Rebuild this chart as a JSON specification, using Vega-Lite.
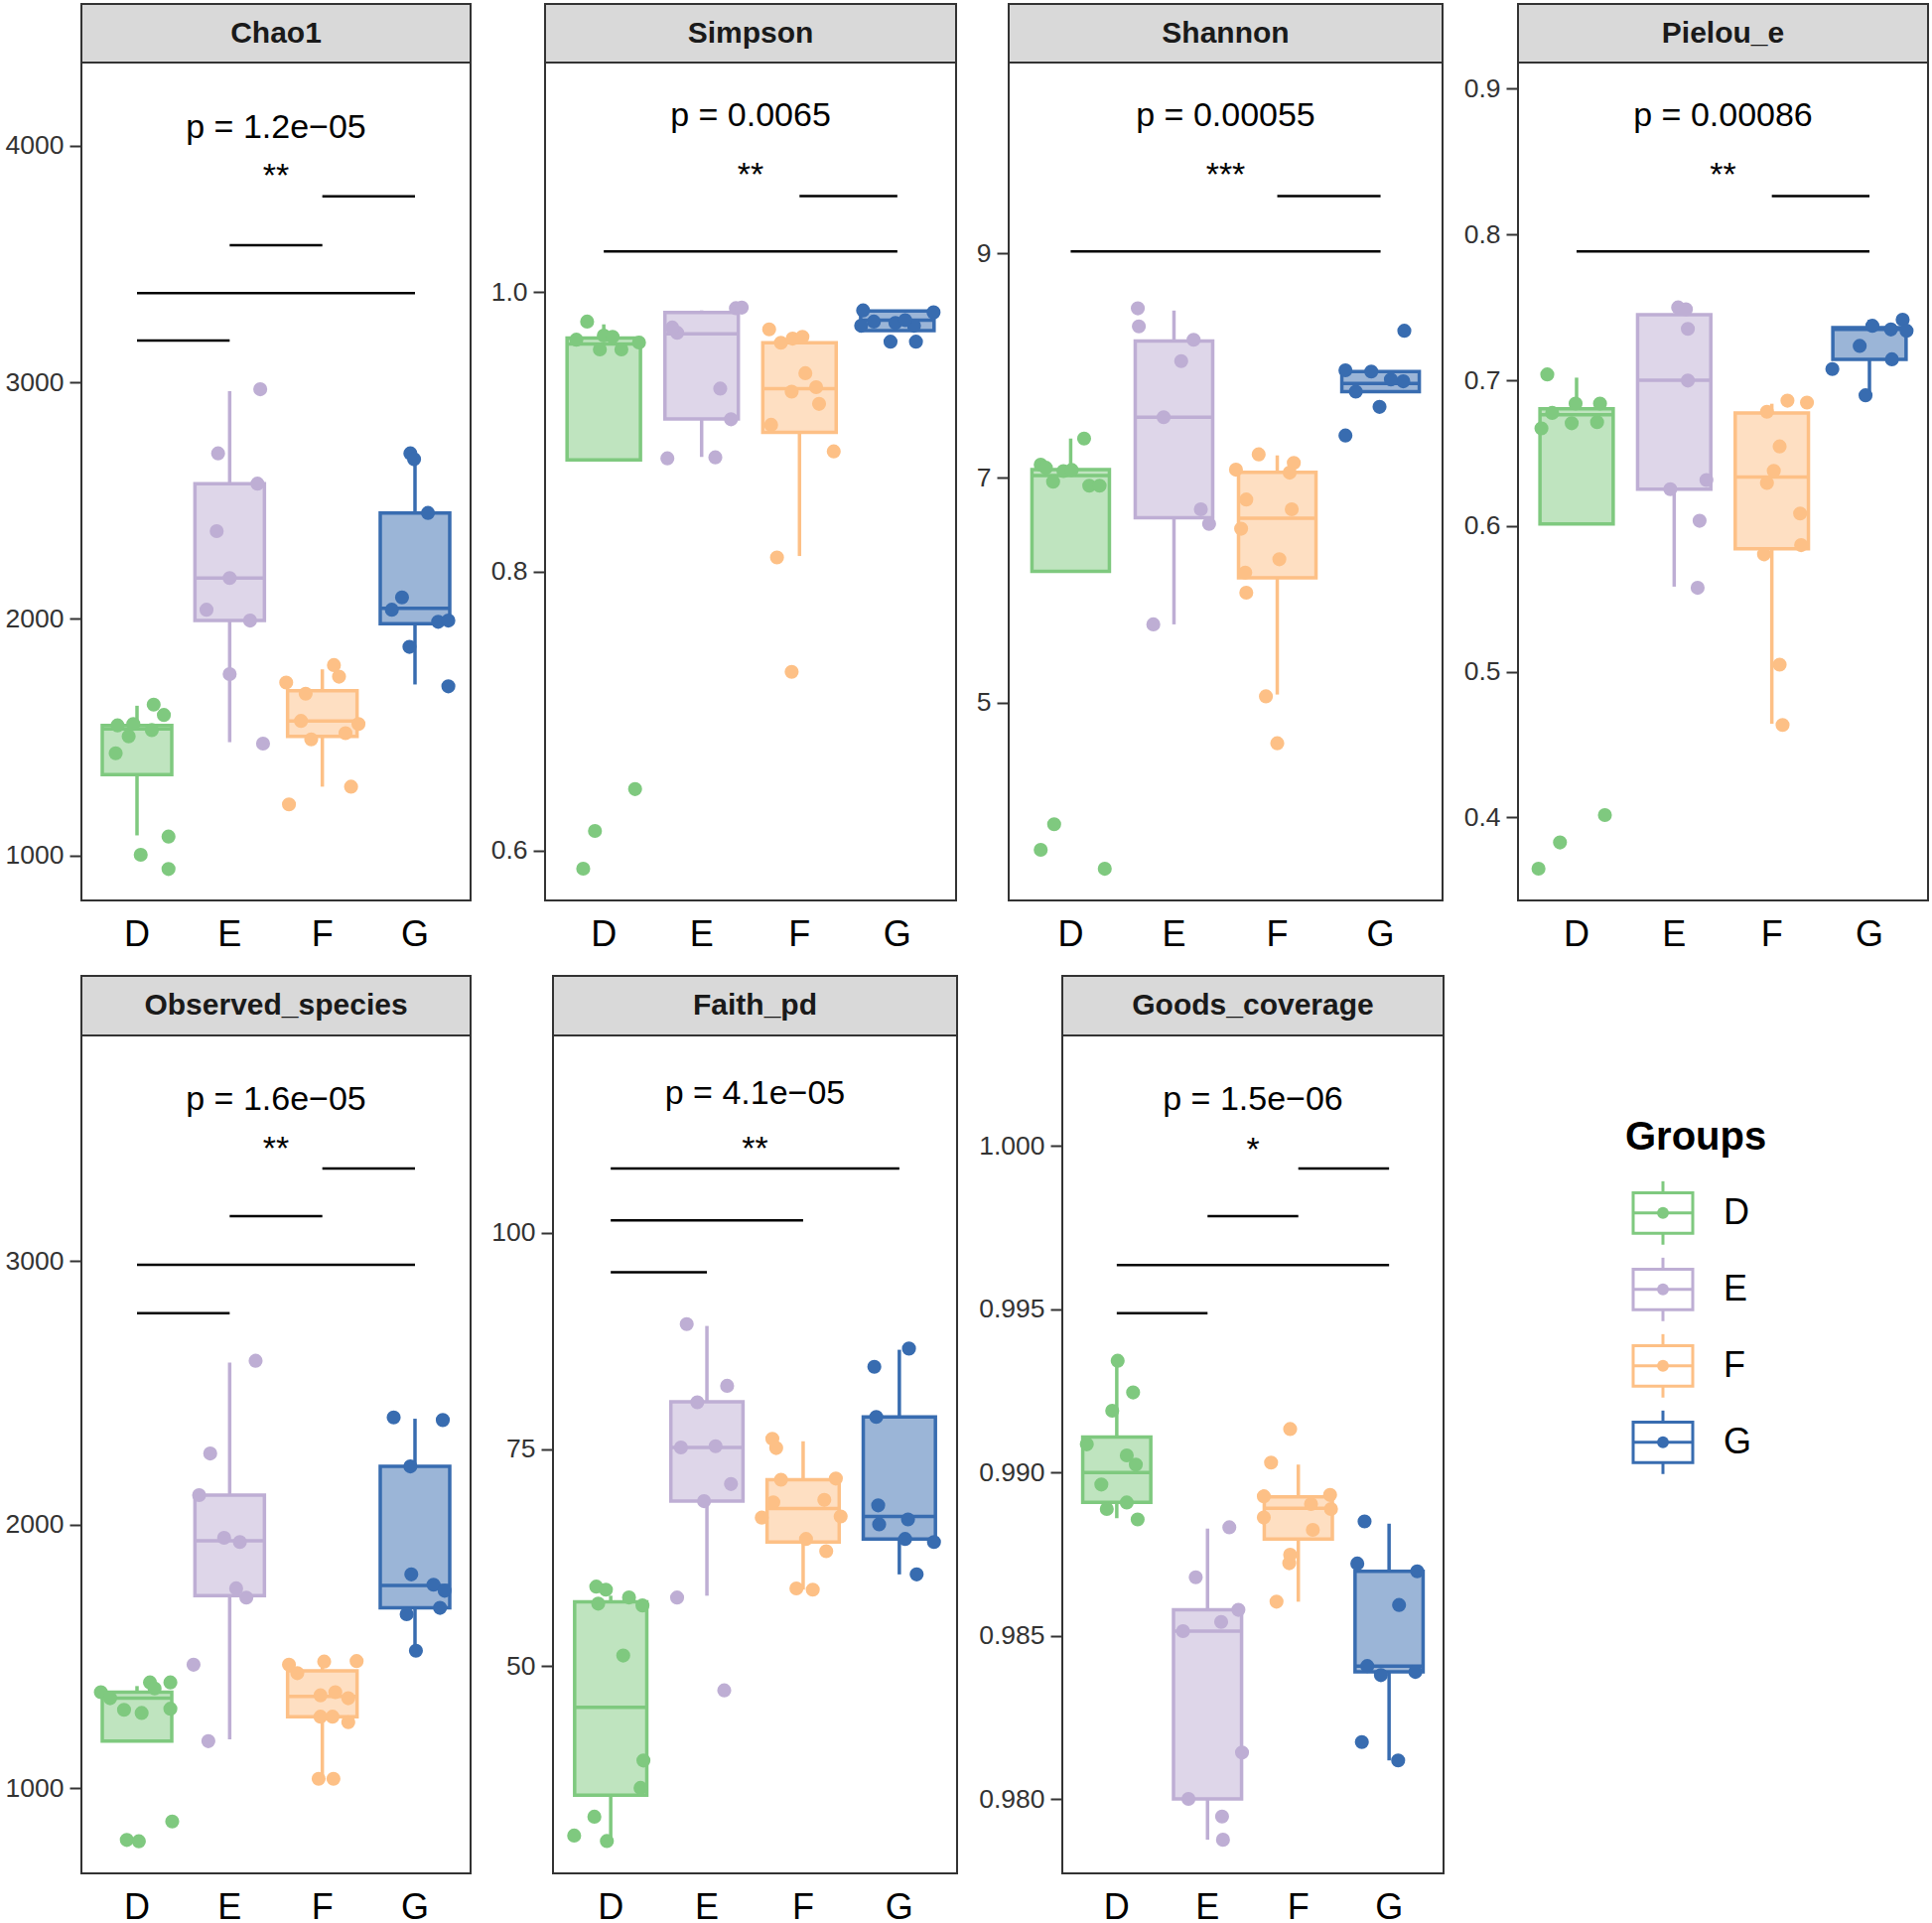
{
"$schema": "https://vega.github.io/schema/vega-lite/v6.json",
"padding": {"left": 4, "top": 3, "right": 4, "bottom": 4},
"background": "white",
"datasets": {
"pts": [
{"m":"Chao1","g":"D","j":-0.21,"v":1550},{"m":"Chao1","g":"D","j":-0.09,"v":1504},{"m":"Chao1","g":"D","j":-0.04,"v":1556},{"m":"Chao1","g":"D","j":0.16,"v":1530},{"m":"Chao1","g":"D","j":-0.23,"v":1432},{"m":"Chao1","g":"D","j":0.18,"v":1638},{"m":"Chao1","g":"D","j":0.29,"v":1594},{"m":"Chao1","g":"D","j":0.04,"v":1003},{"m":"Chao1","g":"D","j":0.34,"v":1080},{"m":"Chao1","g":"D","j":0.34,"v":943},
{"m":"Chao1","g":"E","j":0.33,"v":2971},{"m":"Chao1","g":"E","j":-0.125,"v":2700},{"m":"Chao1","g":"E","j":0.3,"v":2572},{"m":"Chao1","g":"E","j":-0.14,"v":2371},{"m":"Chao1","g":"E","j":0,"v":2173},{"m":"Chao1","g":"E","j":-0.25,"v":2039},{"m":"Chao1","g":"E","j":0.22,"v":1993},{"m":"Chao1","g":"E","j":0,"v":1767},{"m":"Chao1","g":"E","j":0.36,"v":1473},
{"m":"Chao1","g":"F","j":-0.39,"v":1731},{"m":"Chao1","g":"F","j":-0.18,"v":1684},{"m":"Chao1","g":"F","j":0.125,"v":1805},{"m":"Chao1","g":"F","j":0.18,"v":1756},{"m":"Chao1","g":"F","j":-0.23,"v":1569},{"m":"Chao1","g":"F","j":-0.12,"v":1491},{"m":"Chao1","g":"F","j":0.25,"v":1517},{"m":"Chao1","g":"F","j":0.39,"v":1556},{"m":"Chao1","g":"F","j":0.31,"v":1291},{"m":"Chao1","g":"F","j":-0.36,"v":1216},
{"m":"Chao1","g":"G","j":-0.05,"v":2700},{"m":"Chao1","g":"G","j":-0.01,"v":2675},{"m":"Chao1","g":"G","j":0.14,"v":2448},{"m":"Chao1","g":"G","j":-0.14,"v":2091},{"m":"Chao1","g":"G","j":-0.25,"v":2039},{"m":"Chao1","g":"G","j":0.25,"v":1988},{"m":"Chao1","g":"G","j":0.36,"v":1993},{"m":"Chao1","g":"G","j":-0.06,"v":1882},{"m":"Chao1","g":"G","j":0.36,"v":1715},

{"m":"Simpson","g":"D","j":-0.17,"v":0.979},{"m":"Simpson","g":"D","j":-0.04,"v":0.959},{"m":"Simpson","g":"D","j":0,"v":0.969},{"m":"Simpson","g":"D","j":0.09,"v":0.968},{"m":"Simpson","g":"D","j":0.18,"v":0.959},{"m":"Simpson","g":"D","j":0.36,"v":0.964},{"m":"Simpson","g":"D","j":-0.28,"v":0.966},{"m":"Simpson","g":"D","j":-0.21,"v":0.587},{"m":"Simpson","g":"D","j":-0.09,"v":0.614},{"m":"Simpson","g":"D","j":0.32,"v":0.644},
{"m":"Simpson","g":"E","j":0.35,"v":0.9886},{"m":"Simpson","g":"E","j":0.41,"v":0.989},{"m":"Simpson","g":"E","j":-0.25,"v":0.971},{"m":"Simpson","g":"E","j":-0.3,"v":0.9747},{"m":"Simpson","g":"E","j":0.19,"v":0.931},{"m":"Simpson","g":"E","j":0.3,"v":0.909},{"m":"Simpson","g":"E","j":-0.35,"v":0.881},{"m":"Simpson","g":"E","j":0.14,"v":0.8817},
{"m":"Simpson","g":"F","j":-0.31,"v":0.9734},{"m":"Simpson","g":"F","j":-0.19,"v":0.9638},{"m":"Simpson","g":"F","j":-0.07,"v":0.9668},{"m":"Simpson","g":"F","j":0.03,"v":0.968},{"m":"Simpson","g":"F","j":0.06,"v":0.942},{"m":"Simpson","g":"F","j":0.17,"v":0.932},{"m":"Simpson","g":"F","j":-0.08,"v":0.9288},{"m":"Simpson","g":"F","j":0.2,"v":0.92},{"m":"Simpson","g":"F","j":-0.29,"v":0.905},{"m":"Simpson","g":"F","j":0.35,"v":0.886},{"m":"Simpson","g":"F","j":-0.23,"v":0.81},{"m":"Simpson","g":"F","j":-0.08,"v":0.728},
{"m":"Simpson","g":"G","j":-0.35,"v":0.987},{"m":"Simpson","g":"G","j":0.37,"v":0.9856},{"m":"Simpson","g":"G","j":-0.24,"v":0.979},{"m":"Simpson","g":"G","j":-0.37,"v":0.976},{"m":"Simpson","g":"G","j":-0.02,"v":0.978},{"m":"Simpson","g":"G","j":0.17,"v":0.976},{"m":"Simpson","g":"G","j":-0.07,"v":0.9646},{"m":"Simpson","g":"G","j":0.19,"v":0.9646},{"m":"Simpson","g":"G","j":0.08,"v":0.98},

{"m":"Shannon","g":"D","j":-0.29,"v":7.117},{"m":"Shannon","g":"D","j":-0.24,"v":7.09},{"m":"Shannon","g":"D","j":-0.17,"v":6.965},{"m":"Shannon","g":"D","j":-0.07,"v":7.06},{"m":"Shannon","g":"D","j":0.01,"v":7.07},{"m":"Shannon","g":"D","j":0.13,"v":7.35},{"m":"Shannon","g":"D","j":0.18,"v":6.93},{"m":"Shannon","g":"D","j":0.28,"v":6.93},{"m":"Shannon","g":"D","j":-0.29,"v":3.687},{"m":"Shannon","g":"D","j":-0.16,"v":3.915},{"m":"Shannon","g":"D","j":0.33,"v":3.518},
{"m":"Shannon","g":"E","j":-0.35,"v":8.51},{"m":"Shannon","g":"E","j":-0.34,"v":8.349},{"m":"Shannon","g":"E","j":0.19,"v":8.23},{"m":"Shannon","g":"E","j":0.07,"v":8.04},{"m":"Shannon","g":"E","j":-0.1,"v":7.54},{"m":"Shannon","g":"E","j":0.26,"v":6.72},{"m":"Shannon","g":"E","j":0.34,"v":6.59},{"m":"Shannon","g":"E","j":-0.2,"v":5.695},
{"m":"Shannon","g":"F","j":-0.18,"v":7.209},{"m":"Shannon","g":"F","j":-0.4,"v":7.073},{"m":"Shannon","g":"F","j":0.16,"v":7.133},{"m":"Shannon","g":"F","j":0.12,"v":7.046},{"m":"Shannon","g":"F","j":-0.3,"v":6.807},{"m":"Shannon","g":"F","j":0.14,"v":6.72},{"m":"Shannon","g":"F","j":-0.35,"v":6.547},{"m":"Shannon","g":"F","j":0.02,"v":6.275},{"m":"Shannon","g":"F","j":-0.31,"v":6.156},{"m":"Shannon","g":"F","j":-0.3,"v":5.977},{"m":"Shannon","g":"F","j":-0.11,"v":5.054},{"m":"Shannon","g":"F","j":0,"v":4.636},
{"m":"Shannon","g":"G","j":0.23,"v":8.31},{"m":"Shannon","g":"G","j":-0.34,"v":7.958},{"m":"Shannon","g":"G","j":-0.09,"v":7.947},{"m":"Shannon","g":"G","j":-0.24,"v":7.768},{"m":"Shannon","g":"G","j":-0.01,"v":7.632},{"m":"Shannon","g":"G","j":-0.34,"v":7.377},{"m":"Shannon","g":"G","j":0.22,"v":7.86},{"m":"Shannon","g":"G","j":0.1,"v":7.876},

{"m":"Pielou_e","g":"D","j":-0.3,"v":0.704},{"m":"Pielou_e","g":"D","j":-0.36,"v":0.667},{"m":"Pielou_e","g":"D","j":-0.25,"v":0.6776},{"m":"Pielou_e","g":"D","j":-0.05,"v":0.6705},{"m":"Pielou_e","g":"D","j":-0.01,"v":0.684},{"m":"Pielou_e","g":"D","j":0.21,"v":0.6713},{"m":"Pielou_e","g":"D","j":0.24,"v":0.684},{"m":"Pielou_e","g":"D","j":-0.39,"v":0.3649},{"m":"Pielou_e","g":"D","j":-0.17,"v":0.3829},{"m":"Pielou_e","g":"D","j":0.29,"v":0.4017},
{"m":"Pielou_e","g":"E","j":0.04,"v":0.75},{"m":"Pielou_e","g":"E","j":0.12,"v":0.7487},{"m":"Pielou_e","g":"E","j":0.14,"v":0.7353},{"m":"Pielou_e","g":"E","j":0.14,"v":0.6998},{"m":"Pielou_e","g":"E","j":-0.04,"v":0.6253},{"m":"Pielou_e","g":"E","j":0.33,"v":0.6316},{"m":"Pielou_e","g":"E","j":0.26,"v":0.6036},{"m":"Pielou_e","g":"E","j":0.24,"v":0.5576},
{"m":"Pielou_e","g":"F","j":0.16,"v":0.686},{"m":"Pielou_e","g":"F","j":0.36,"v":0.6847},{"m":"Pielou_e","g":"F","j":-0.05,"v":0.6784},{"m":"Pielou_e","g":"F","j":0.08,"v":0.6546},{"m":"Pielou_e","g":"F","j":0.02,"v":0.6379},{"m":"Pielou_e","g":"F","j":-0.05,"v":0.6295},{"m":"Pielou_e","g":"F","j":0.29,"v":0.6086},{"m":"Pielou_e","g":"F","j":-0.08,"v":0.5806},{"m":"Pielou_e","g":"F","j":0.3,"v":0.5869},{"m":"Pielou_e","g":"F","j":0.08,"v":0.5049},{"m":"Pielou_e","g":"F","j":0.11,"v":0.4635},
{"m":"Pielou_e","g":"G","j":0.34,"v":0.7416},{"m":"Pielou_e","g":"G","j":0.03,"v":0.7374},{"m":"Pielou_e","g":"G","j":0.22,"v":0.7349},{"m":"Pielou_e","g":"G","j":0.38,"v":0.734},{"m":"Pielou_e","g":"G","j":-0.1,"v":0.7236},{"m":"Pielou_e","g":"G","j":-0.38,"v":0.7077},{"m":"Pielou_e","g":"G","j":0.23,"v":0.7144},{"m":"Pielou_e","g":"G","j":-0.04,"v":0.6897},

{"m":"Observed_species","g":"D","j":-0.39,"v":1364},{"m":"Observed_species","g":"D","j":-0.29,"v":1341},{"m":"Observed_species","g":"D","j":-0.14,"v":1297},{"m":"Observed_species","g":"D","j":0.05,"v":1285},{"m":"Observed_species","g":"D","j":0.14,"v":1401},{"m":"Observed_species","g":"D","j":0.19,"v":1378},{"m":"Observed_species","g":"D","j":0.36,"v":1401},{"m":"Observed_species","g":"D","j":0.36,"v":1301},{"m":"Observed_species","g":"D","j":-0.11,"v":803},{"m":"Observed_species","g":"D","j":0.02,"v":798},{"m":"Observed_species","g":"D","j":0.38,"v":873},
{"m":"Observed_species","g":"E","j":0.28,"v":2622},{"m":"Observed_species","g":"E","j":-0.21,"v":2270},{"m":"Observed_species","g":"E","j":-0.33,"v":2112},{"m":"Observed_species","g":"E","j":-0.06,"v":1950},{"m":"Observed_species","g":"E","j":0.11,"v":1934},{"m":"Observed_species","g":"E","j":0.07,"v":1758},{"m":"Observed_species","g":"E","j":0.18,"v":1723},{"m":"Observed_species","g":"E","j":-0.39,"v":1468},{"m":"Observed_species","g":"E","j":-0.23,"v":1178},
{"m":"Observed_species","g":"F","j":-0.36,"v":1468},{"m":"Observed_species","g":"F","j":-0.27,"v":1436},{"m":"Observed_species","g":"F","j":0.02,"v":1480},{"m":"Observed_species","g":"F","j":0.37,"v":1482},{"m":"Observed_species","g":"F","j":-0.02,"v":1352},{"m":"Observed_species","g":"F","j":0.14,"v":1364},{"m":"Observed_species","g":"F","j":0.28,"v":1341},{"m":"Observed_species","g":"F","j":-0.02,"v":1271},{"m":"Observed_species","g":"F","j":0.11,"v":1271},{"m":"Observed_species","g":"F","j":0.28,"v":1250},{"m":"Observed_species","g":"F","j":-0.04,"v":1035},{"m":"Observed_species","g":"F","j":0.12,"v":1035},
{"m":"Observed_species","g":"G","j":-0.23,"v":2407},{"m":"Observed_species","g":"G","j":0.3,"v":2397},{"m":"Observed_species","g":"G","j":-0.05,"v":2221},{"m":"Observed_species","g":"G","j":-0.04,"v":1811},{"m":"Observed_species","g":"G","j":0.2,"v":1772},{"m":"Observed_species","g":"G","j":0.32,"v":1749},{"m":"Observed_species","g":"G","j":-0.09,"v":1660},{"m":"Observed_species","g":"G","j":0.27,"v":1684},{"m":"Observed_species","g":"G","j":0.01,"v":1521},

{"m":"Faith_pd","g":"D","j":-0.15,"v":59.15},{"m":"Faith_pd","g":"D","j":-0.05,"v":58.8},{"m":"Faith_pd","g":"D","j":-0.13,"v":57.18},{"m":"Faith_pd","g":"D","j":0.19,"v":57.9},{"m":"Faith_pd","g":"D","j":0.33,"v":56.97},{"m":"Faith_pd","g":"D","j":0.13,"v":51.2},{"m":"Faith_pd","g":"D","j":0.34,"v":39.08},{"m":"Faith_pd","g":"D","j":0.31,"v":35.92},{"m":"Faith_pd","g":"D","j":-0.17,"v":32.6},{"m":"Faith_pd","g":"D","j":-0.38,"v":30.42},{"m":"Faith_pd","g":"D","j":-0.04,"v":29.79},
{"m":"Faith_pd","g":"E","j":-0.21,"v":89.44},{"m":"Faith_pd","g":"E","j":0.21,"v":82.32},{"m":"Faith_pd","g":"E","j":-0.1,"v":80.42},{"m":"Faith_pd","g":"E","j":-0.27,"v":75.21},{"m":"Faith_pd","g":"E","j":0.09,"v":75.35},{"m":"Faith_pd","g":"E","j":0.25,"v":70.99},{"m":"Faith_pd","g":"E","j":-0.03,"v":69.01},{"m":"Faith_pd","g":"E","j":-0.31,"v":57.89},{"m":"Faith_pd","g":"E","j":0.18,"v":47.18},
{"m":"Faith_pd","g":"F","j":-0.32,"v":76.2},{"m":"Faith_pd","g":"F","j":-0.28,"v":75.14},{"m":"Faith_pd","g":"F","j":-0.23,"v":71.48},{"m":"Faith_pd","g":"F","j":0.34,"v":71.62},{"m":"Faith_pd","g":"F","j":-0.31,"v":68.87},{"m":"Faith_pd","g":"F","j":0.22,"v":69.15},{"m":"Faith_pd","g":"F","j":-0.43,"v":67.11},{"m":"Faith_pd","g":"F","j":0.39,"v":67.25},{"m":"Faith_pd","g":"F","j":0.03,"v":64.65},{"m":"Faith_pd","g":"F","j":0.24,"v":63.24},{"m":"Faith_pd","g":"F","j":-0.07,"v":58.94},{"m":"Faith_pd","g":"F","j":0.1,"v":58.8},
{"m":"Faith_pd","g":"G","j":0.1,"v":86.62},{"m":"Faith_pd","g":"G","j":-0.26,"v":84.51},{"m":"Faith_pd","g":"G","j":-0.24,"v":78.73},{"m":"Faith_pd","g":"G","j":-0.22,"v":68.52},{"m":"Faith_pd","g":"G","j":-0.21,"v":66.34},{"m":"Faith_pd","g":"G","j":0.09,"v":66.9},{"m":"Faith_pd","g":"G","j":0.06,"v":64.65},{"m":"Faith_pd","g":"G","j":0.36,"v":64.3},{"m":"Faith_pd","g":"G","j":0.18,"v":60.56},

{"m":"Goods_coverage","g":"D","j":0.01,"v":0.99342},{"m":"Goods_coverage","g":"D","j":0.18,"v":0.99245},{"m":"Goods_coverage","g":"D","j":-0.05,"v":0.99189},{"m":"Goods_coverage","g":"D","j":-0.33,"v":0.99086},{"m":"Goods_coverage","g":"D","j":0.11,"v":0.99052},{"m":"Goods_coverage","g":"D","j":0.21,"v":0.99024},{"m":"Goods_coverage","g":"D","j":-0.17,"v":0.98963},{"m":"Goods_coverage","g":"D","j":0.11,"v":0.98908},{"m":"Goods_coverage","g":"D","j":-0.11,"v":0.98888},{"m":"Goods_coverage","g":"D","j":0.23,"v":0.98856},
{"m":"Goods_coverage","g":"E","j":0.24,"v":0.98832},{"m":"Goods_coverage","g":"E","j":-0.13,"v":0.98679},{"m":"Goods_coverage","g":"E","j":0.34,"v":0.98579},{"m":"Goods_coverage","g":"E","j":0.15,"v":0.98542},{"m":"Goods_coverage","g":"E","j":-0.27,"v":0.98514},{"m":"Goods_coverage","g":"E","j":0.38,"v":0.98142},{"m":"Goods_coverage","g":"E","j":-0.21,"v":0.98},{"m":"Goods_coverage","g":"E","j":0.16,"v":0.97946},{"m":"Goods_coverage","g":"E","j":0.17,"v":0.97875},
{"m":"Goods_coverage","g":"F","j":-0.09,"v":0.99133},{"m":"Goods_coverage","g":"F","j":-0.3,"v":0.9903},{"m":"Goods_coverage","g":"F","j":-0.38,"v":0.98927},{"m":"Goods_coverage","g":"F","j":0.35,"v":0.98931},{"m":"Goods_coverage","g":"F","j":0.14,"v":0.98903},{"m":"Goods_coverage","g":"F","j":-0.38,"v":0.98862},{"m":"Goods_coverage","g":"F","j":0.36,"v":0.98888},{"m":"Goods_coverage","g":"F","j":0.16,"v":0.98824},{"m":"Goods_coverage","g":"F","j":-0.09,"v":0.98748},{"m":"Goods_coverage","g":"F","j":-0.1,"v":0.98722},{"m":"Goods_coverage","g":"F","j":-0.24,"v":0.98604},
{"m":"Goods_coverage","g":"G","j":-0.27,"v":0.9885},{"m":"Goods_coverage","g":"G","j":-0.35,"v":0.98721},{"m":"Goods_coverage","g":"G","j":0.31,"v":0.98697},{"m":"Goods_coverage","g":"G","j":0.11,"v":0.98594},{"m":"Goods_coverage","g":"G","j":-0.24,"v":0.98407},{"m":"Goods_coverage","g":"G","j":-0.09,"v":0.98379},{"m":"Goods_coverage","g":"G","j":0.29,"v":0.98389},{"m":"Goods_coverage","g":"G","j":-0.3,"v":0.98174},{"m":"Goods_coverage","g":"G","j":0.1,"v":0.98118}
],
"box": [
{"m":"Chao1","g":"D","lo":1085,"q1":1342,"med":1535,"q3":1550,"hi":1633},
{"m":"Chao1","g":"E","lo":1479,"q1":1993,"med":2173,"q3":2572,"hi":2963},
{"m":"Chao1","g":"F","lo":1291,"q1":1504,"med":1569,"q3":1697,"hi":1787},
{"m":"Chao1","g":"G","lo":1723,"q1":1980,"med":2045,"q3":2448,"hi":2688},
{"m":"Simpson","g":"D","lo":0.8799,"q1":0.8799,"med":0.963,"q3":0.9672,"hi":0.977},
{"m":"Simpson","g":"E","lo":0.882,"q1":0.9092,"med":0.9703,"q3":0.9856,"hi":0.987},
{"m":"Simpson","g":"F","lo":0.811,"q1":0.8996,"med":0.931,"q3":0.9638,"hi":0.97},
{"m":"Simpson","g":"G","lo":0.9725,"q1":0.9725,"med":0.98,"q3":0.9865,"hi":0.9865},
{"m":"Shannon","g":"D","lo":6.167,"q1":6.167,"med":7.02,"q3":7.073,"hi":7.35},
{"m":"Shannon","g":"E","lo":5.695,"q1":6.644,"med":7.54,"q3":8.218,"hi":8.49},
{"m":"Shannon","g":"F","lo":5.07,"q1":6.11,"med":6.64,"q3":7.05,"hi":7.2},
{"m":"Shannon","g":"G","lo":7.768,"q1":7.768,"med":7.84,"q3":7.947,"hi":7.947},
{"m":"Pielou_e","g":"D","lo":0.6015,"q1":0.6015,"med":0.6763,"q3":0.6805,"hi":0.7018},
{"m":"Pielou_e","g":"E","lo":0.5584,"q1":0.6253,"med":0.7,"q3":0.7449,"hi":0.7449},
{"m":"Pielou_e","g":"F","lo":0.4644,"q1":0.5844,"med":0.6337,"q3":0.6776,"hi":0.6839},
{"m":"Pielou_e","g":"G","lo":0.6893,"q1":0.7144,"med":0.735,"q3":0.7361,"hi":0.7416},
{"m":"Observed_species","g":"D","lo":1178,"q1":1178,"med":1341,"q3":1364,"hi":1387},
{"m":"Observed_species","g":"E","lo":1185,"q1":1730,"med":1939,"q3":2112,"hi":2615},
{"m":"Observed_species","g":"F","lo":1039,"q1":1271,"med":1348,"q3":1445,"hi":1475},
{"m":"Observed_species","g":"G","lo":1521,"q1":1684,"med":1769,"q3":2221,"hi":2402},
{"m":"Faith_pd","g":"D","lo":29.79,"q1":35.07,"med":45.21,"q3":57.39,"hi":58.1},
{"m":"Faith_pd","g":"E","lo":58.1,"q1":69.01,"med":75.21,"q3":80.49,"hi":89.23},
{"m":"Faith_pd","g":"F","lo":58.8,"q1":64.3,"med":68.17,"q3":71.48,"hi":75.92},
{"m":"Faith_pd","g":"G","lo":60.56,"q1":64.65,"med":67.25,"q3":78.73,"hi":86.48},
{"m":"Goods_coverage","g":"D","lo":0.988598,"q1":0.989084,"med":0.99,"q3":0.991084,"hi":0.993421},
{"m":"Goods_coverage","g":"E","lo":0.97875,"q1":0.98,"med":0.98514,"q3":0.98579,"hi":0.98828},
{"m":"Goods_coverage","g":"F","lo":0.98604,"q1":0.98796,"med":0.9889,"q3":0.98925,"hi":0.99024},
{"m":"Goods_coverage","g":"G","lo":0.98118,"q1":0.98389,"med":0.98407,"q3":0.98697,"hi":0.98843}
],
"sig": [
{"m":"Chao1","g1":"D","g2":"E","y":3177},{"m":"Chao1","g1":"D","g2":"G","y":3377},{"m":"Chao1","g1":"E","g2":"F","y":3580},{"m":"Chao1","g1":"F","g2":"G","y":3786},
{"m":"Simpson","g1":"D","g2":"G","y":1.0293},{"m":"Simpson","g1":"F","g2":"G","y":1.069},
{"m":"Shannon","g1":"D","g2":"G","y":9.016},{"m":"Shannon","g1":"F","g2":"G","y":9.51},
{"m":"Pielou_e","g1":"D","g2":"G","y":0.7884},{"m":"Pielou_e","g1":"F","g2":"G","y":0.8264},
{"m":"Observed_species","g1":"D","g2":"E","y":2803},{"m":"Observed_species","g1":"D","g2":"G","y":2986},{"m":"Observed_species","g1":"E","g2":"F","y":3171},{"m":"Observed_species","g1":"F","g2":"G","y":3352},
{"m":"Faith_pd","g1":"D","g2":"E","y":95.42},{"m":"Faith_pd","g1":"D","g2":"F","y":101.41},{"m":"Faith_pd","g1":"D","g2":"G","y":107.39},
{"m":"Goods_coverage","g1":"D","g2":"E","y":0.994879},{"m":"Goods_coverage","g1":"D","g2":"G","y":0.996355},{"m":"Goods_coverage","g1":"E","g2":"F","y":0.99785},{"m":"Goods_coverage","g1":"F","g2":"G","y":0.999308}
],
"ann": [
{"m":"Chao1","k":"p","t":"p = 1.2e−05","y":4082},{"m":"Chao1","k":"s","t":"**","y":3910},
{"m":"Simpson","k":"p","t":"p = 0.0065","y":1.1275},{"m":"Simpson","k":"s","t":"**","y":1.0904},
{"m":"Shannon","k":"p","t":"p = 0.00055","y":10.237},{"m":"Shannon","k":"s","t":"***","y":9.776},
{"m":"Pielou_e","k":"p","t":"p = 0.00086","y":0.8824},{"m":"Pielou_e","k":"s","t":"**","y":0.8469},
{"m":"Observed_species","k":"p","t":"p = 1.6e−05","y":3619},{"m":"Observed_species","k":"s","t":"**","y":3463},
{"m":"Faith_pd","k":"p","t":"p = 4.1e−05","y":116.2},{"m":"Faith_pd","k":"s","t":"**","y":110.77},
{"m":"Goods_coverage","k":"p","t":"p = 1.5e−06","y":1.001458},{"m":"Goods_coverage","k":"s","t":"*","y":1.00015}
],
"groups": [{"g":"D"},{"g":"E"},{"g":"F"},{"g":"G"}]
},
"spacing": 22,
"resolve": {"scale": {"x": "independent", "y": "independent", "color": "shared", "fill": "shared", "stroke": "shared"}},
"vconcat": [
{
"columns": 7,
"spacing": {"row": 0, "column": 0},
"bounds": "flush",
"resolve": {"scale": {"x": "independent", "y": "independent", "color": "shared", "fill": "shared", "stroke": "shared"}},
"concat": [
{"width": 392, "height": 59, "data": {"values": [{"t": "Chao1"}]}, "mark": {"type": "text", "fontSize": 30, "fontWeight": "bold", "color": "#1a1a1a", "baseline": "middle"}, "encoding": {"text": {"field": "t"}}, "view": {"fill": "#d9d9d9", "stroke": "#333333", "strokeWidth": 2}},
{"width": 75, "height": 59, "data": {"values": []}, "mark": "point", "encoding": {}, "view": {"stroke": "transparent"}},
{"width": 414, "height": 59, "data": {"values": [{"t": "Simpson"}]}, "mark": {"type": "text", "fontSize": 30, "fontWeight": "bold", "color": "#1a1a1a", "baseline": "middle"}, "encoding": {"text": {"field": "t"}}, "view": {"fill": "#d9d9d9", "stroke": "#333333", "strokeWidth": 2}},
{"width": 53, "height": 59, "data": {"values": []}, "mark": "point", "encoding": {}, "view": {"stroke": "transparent"}},
{"width": 437, "height": 59, "data": {"values": [{"t": "Shannon"}]}, "mark": {"type": "text", "fontSize": 30, "fontWeight": "bold", "color": "#1a1a1a", "baseline": "middle"}, "encoding": {"text": {"field": "t"}}, "view": {"fill": "#d9d9d9", "stroke": "#333333", "strokeWidth": 2}},
{"width": 76, "height": 59, "data": {"values": []}, "mark": "point", "encoding": {}, "view": {"stroke": "transparent"}},
{"width": 413, "height": 59, "data": {"values": [{"t": "Pielou_e"}]}, "mark": {"type": "text", "fontSize": 30, "fontWeight": "bold", "color": "#1a1a1a", "baseline": "middle"}, "encoding": {"text": {"field": "t"}}, "view": {"fill": "#d9d9d9", "stroke": "#333333", "strokeWidth": 2}},

{"width": 392, "height": 844, "resolve": {"scale": {"xOffset": "independent"}}, "layer": [
 {"data": {"name": "box"}, "transform": [{"filter": "datum.m === 'Chao1'"}], "mark": {"type": "rule", "strokeWidth": 3.5},
  "encoding": {"x": {"field": "g", "type": "nominal", "title": null, "bandPosition": 0.5, "scale": {"domain": ["D","E","F","G"], "paddingInner": 0.25, "paddingOuter": 0.225}, "axis": {"labelAngle": 0}},
   "y": {"field": "lo", "type": "quantitative", "title": null, "scale": {"domain": [810, 4352], "nice": false, "zero": false}, "axis": {"values": [1000, 2000, 3000, 4000], "format": "d"}},
   "y2": {"field": "q1"}, "stroke": {"field": "g", "type": "nominal", "legend": null}}},
 {"data": {"name": "box"}, "transform": [{"filter": "datum.m === 'Chao1'"}], "mark": {"type": "rule", "strokeWidth": 3.5},
  "encoding": {"x": {"field": "g", "type": "nominal", "title": null, "bandPosition": 0.5}, "y": {"field": "q3", "type": "quantitative", "title": null}, "y2": {"field": "hi"}, "stroke": {"field": "g", "type": "nominal", "legend": null}}},
 {"data": {"name": "box"}, "transform": [{"filter": "datum.m === 'Chao1'"}], "mark": {"type": "bar", "fillOpacity": 0.5, "strokeWidth": 3.5},
  "encoding": {"x": {"field": "g", "type": "nominal", "title": null}, "y": {"field": "q1", "type": "quantitative", "title": null}, "y2": {"field": "q3"}, "fill": {"field": "g", "type": "nominal", "legend": null}, "stroke": {"field": "g", "type": "nominal", "legend": null}}},
 {"data": {"name": "box"}, "transform": [{"filter": "datum.m === 'Chao1'"}], "mark": {"type": "bar", "fillOpacity": 0, "strokeWidth": 3.5},
  "encoding": {"x": {"field": "g", "type": "nominal", "title": null}, "y": {"field": "med", "type": "quantitative", "title": null}, "y2": {"field": "med"}, "stroke": {"field": "g", "type": "nominal", "legend": null}}},
 {"data": {"name": "pts"}, "transform": [{"filter": "datum.m === 'Chao1'"}], "mark": {"type": "point", "filled": true, "size": 200, "opacity": 1},
  "encoding": {"x": {"field": "g", "type": "nominal", "title": null, "bandPosition": 0}, "xOffset": {"field": "j", "type": "quantitative", "scale": {"domain": [-0.375, 0.375], "range": [0, 70]}},
   "y": {"field": "v", "type": "quantitative", "title": null}, "color": {"field": "g", "type": "nominal", "legend": null}}},
 {"data": {"name": "sig"}, "transform": [{"filter": "datum.m === 'Chao1'"}], "mark": {"type": "rule", "strokeWidth": 2.5, "color": "#000000"},
  "encoding": {"x": {"field": "g1", "type": "nominal", "title": null, "bandPosition": 0.5}, "x2": {"field": "g2"}, "y": {"field": "y", "type": "quantitative", "title": null}}},
 {"data": {"name": "ann"}, "transform": [{"filter": "datum.m === 'Chao1' && datum.k === 'p'"}], "mark": {"type": "text", "fontSize": 34, "baseline": "alphabetic", "dy": 12, "color": "#000000"},
  "encoding": {"y": {"field": "y", "type": "quantitative", "title": null}, "text": {"field": "t"}}},
 {"data": {"name": "ann"}, "transform": [{"filter": "datum.m === 'Chao1' && datum.k === 's'"}], "mark": {"type": "text", "fontSize": 34, "baseline": "alphabetic", "dy": 20, "color": "#000000"},
  "encoding": {"y": {"field": "y", "type": "quantitative", "title": null}, "text": {"field": "t"}}}
]},
{"width": 75, "height": 844, "data": {"values": []}, "mark": "point", "encoding": {}, "view": {"stroke": "transparent"}},
{"width": 414, "height": 844, "resolve": {"scale": {"xOffset": "independent"}}, "layer": [
 {"data": {"name": "box"}, "transform": [{"filter": "datum.m === 'Simpson'"}], "mark": {"type": "rule", "strokeWidth": 3.5},
  "encoding": {"x": {"field": "g", "type": "nominal", "title": null, "bandPosition": 0.5, "scale": {"domain": ["D","E","F","G"], "paddingInner": 0.25, "paddingOuter": 0.225}, "axis": {"labelAngle": 0}},
   "y": {"field": "lo", "type": "quantitative", "title": null, "scale": {"domain": [0.5642, 1.1646], "nice": false, "zero": false}, "axis": {"values": [0.6, 0.8, 1.0], "format": ".1f"}},
   "y2": {"field": "q1"}, "stroke": {"field": "g", "type": "nominal", "legend": null}}},
 {"data": {"name": "box"}, "transform": [{"filter": "datum.m === 'Simpson'"}], "mark": {"type": "rule", "strokeWidth": 3.5},
  "encoding": {"x": {"field": "g", "type": "nominal", "title": null, "bandPosition": 0.5}, "y": {"field": "q3", "type": "quantitative", "title": null}, "y2": {"field": "hi"}, "stroke": {"field": "g", "type": "nominal", "legend": null}}},
 {"data": {"name": "box"}, "transform": [{"filter": "datum.m === 'Simpson'"}], "mark": {"type": "bar", "fillOpacity": 0.5, "strokeWidth": 3.5},
  "encoding": {"x": {"field": "g", "type": "nominal", "title": null}, "y": {"field": "q1", "type": "quantitative", "title": null}, "y2": {"field": "q3"}, "fill": {"field": "g", "type": "nominal", "legend": null}, "stroke": {"field": "g", "type": "nominal", "legend": null}}},
 {"data": {"name": "box"}, "transform": [{"filter": "datum.m === 'Simpson'"}], "mark": {"type": "bar", "fillOpacity": 0, "strokeWidth": 3.5},
  "encoding": {"x": {"field": "g", "type": "nominal", "title": null}, "y": {"field": "med", "type": "quantitative", "title": null}, "y2": {"field": "med"}, "stroke": {"field": "g", "type": "nominal", "legend": null}}},
 {"data": {"name": "pts"}, "transform": [{"filter": "datum.m === 'Simpson'"}], "mark": {"type": "point", "filled": true, "size": 200, "opacity": 1},
  "encoding": {"x": {"field": "g", "type": "nominal", "title": null, "bandPosition": 0}, "xOffset": {"field": "j", "type": "quantitative", "scale": {"domain": [-0.375, 0.375], "range": [0, 73.93]}},
   "y": {"field": "v", "type": "quantitative", "title": null}, "color": {"field": "g", "type": "nominal", "legend": null}}},
 {"data": {"name": "sig"}, "transform": [{"filter": "datum.m === 'Simpson'"}], "mark": {"type": "rule", "strokeWidth": 2.5, "color": "#000000"},
  "encoding": {"x": {"field": "g1", "type": "nominal", "title": null, "bandPosition": 0.5}, "x2": {"field": "g2"}, "y": {"field": "y", "type": "quantitative", "title": null}}},
 {"data": {"name": "ann"}, "transform": [{"filter": "datum.m === 'Simpson' && datum.k === 'p'"}], "mark": {"type": "text", "fontSize": 34, "baseline": "alphabetic", "dy": 12, "color": "#000000"},
  "encoding": {"y": {"field": "y", "type": "quantitative", "title": null}, "text": {"field": "t"}}},
 {"data": {"name": "ann"}, "transform": [{"filter": "datum.m === 'Simpson' && datum.k === 's'"}], "mark": {"type": "text", "fontSize": 34, "baseline": "alphabetic", "dy": 20, "color": "#000000"},
  "encoding": {"y": {"field": "y", "type": "quantitative", "title": null}, "text": {"field": "t"}}}
]},
{"width": 53, "height": 844, "data": {"values": []}, "mark": "point", "encoding": {}, "view": {"stroke": "transparent"}},
{"width": 437, "height": 844, "resolve": {"scale": {"xOffset": "independent"}}, "layer": [
 {"data": {"name": "box"}, "transform": [{"filter": "datum.m === 'Shannon'"}], "mark": {"type": "rule", "strokeWidth": 3.5},
  "encoding": {"x": {"field": "g", "type": "nominal", "title": null, "bandPosition": 0.5, "scale": {"domain": ["D","E","F","G"], "paddingInner": 0.25, "paddingOuter": 0.225}, "axis": {"labelAngle": 0}},
   "y": {"field": "lo", "type": "quantitative", "title": null, "scale": {"domain": [3.236, 10.699], "nice": false, "zero": false}, "axis": {"values": [5, 7, 9], "format": "d"}},
   "y2": {"field": "q1"}, "stroke": {"field": "g", "type": "nominal", "legend": null}}},
 {"data": {"name": "box"}, "transform": [{"filter": "datum.m === 'Shannon'"}], "mark": {"type": "rule", "strokeWidth": 3.5},
  "encoding": {"x": {"field": "g", "type": "nominal", "title": null, "bandPosition": 0.5}, "y": {"field": "q3", "type": "quantitative", "title": null}, "y2": {"field": "hi"}, "stroke": {"field": "g", "type": "nominal", "legend": null}}},
 {"data": {"name": "box"}, "transform": [{"filter": "datum.m === 'Shannon'"}], "mark": {"type": "bar", "fillOpacity": 0.5, "strokeWidth": 3.5},
  "encoding": {"x": {"field": "g", "type": "nominal", "title": null}, "y": {"field": "q1", "type": "quantitative", "title": null}, "y2": {"field": "q3"}, "fill": {"field": "g", "type": "nominal", "legend": null}, "stroke": {"field": "g", "type": "nominal", "legend": null}}},
 {"data": {"name": "box"}, "transform": [{"filter": "datum.m === 'Shannon'"}], "mark": {"type": "bar", "fillOpacity": 0, "strokeWidth": 3.5},
  "encoding": {"x": {"field": "g", "type": "nominal", "title": null}, "y": {"field": "med", "type": "quantitative", "title": null}, "y2": {"field": "med"}, "stroke": {"field": "g", "type": "nominal", "legend": null}}},
 {"data": {"name": "pts"}, "transform": [{"filter": "datum.m === 'Shannon'"}], "mark": {"type": "point", "filled": true, "size": 200, "opacity": 1},
  "encoding": {"x": {"field": "g", "type": "nominal", "title": null, "bandPosition": 0}, "xOffset": {"field": "j", "type": "quantitative", "scale": {"domain": [-0.375, 0.375], "range": [0, 78.04]}},
   "y": {"field": "v", "type": "quantitative", "title": null}, "color": {"field": "g", "type": "nominal", "legend": null}}},
 {"data": {"name": "sig"}, "transform": [{"filter": "datum.m === 'Shannon'"}], "mark": {"type": "rule", "strokeWidth": 2.5, "color": "#000000"},
  "encoding": {"x": {"field": "g1", "type": "nominal", "title": null, "bandPosition": 0.5}, "x2": {"field": "g2"}, "y": {"field": "y", "type": "quantitative", "title": null}}},
 {"data": {"name": "ann"}, "transform": [{"filter": "datum.m === 'Shannon' && datum.k === 'p'"}], "mark": {"type": "text", "fontSize": 34, "baseline": "alphabetic", "dy": 12, "color": "#000000"},
  "encoding": {"y": {"field": "y", "type": "quantitative", "title": null}, "text": {"field": "t"}}},
 {"data": {"name": "ann"}, "transform": [{"filter": "datum.m === 'Shannon' && datum.k === 's'"}], "mark": {"type": "text", "fontSize": 34, "baseline": "alphabetic", "dy": 20, "color": "#000000"},
  "encoding": {"y": {"field": "y", "type": "quantitative", "title": null}, "text": {"field": "t"}}}
]},
{"width": 76, "height": 844, "data": {"values": []}, "mark": "point", "encoding": {}, "view": {"stroke": "transparent"}},
{"width": 413, "height": 844, "resolve": {"scale": {"xOffset": "independent"}}, "layer": [
 {"data": {"name": "box"}, "transform": [{"filter": "datum.m === 'Pielou_e'"}], "mark": {"type": "rule", "strokeWidth": 3.5},
  "encoding": {"x": {"field": "g", "type": "nominal", "title": null, "bandPosition": 0.5, "scale": {"domain": ["D","E","F","G"], "paddingInner": 0.25, "paddingOuter": 0.225}, "axis": {"labelAngle": 0}},
   "y": {"field": "lo", "type": "quantitative", "title": null, "scale": {"domain": [0.3431, 0.918], "nice": false, "zero": false}, "axis": {"values": [0.4, 0.5, 0.6, 0.7, 0.8, 0.9], "format": ".1f"}},
   "y2": {"field": "q1"}, "stroke": {"field": "g", "type": "nominal", "legend": null}}},
 {"data": {"name": "box"}, "transform": [{"filter": "datum.m === 'Pielou_e'"}], "mark": {"type": "rule", "strokeWidth": 3.5},
  "encoding": {"x": {"field": "g", "type": "nominal", "title": null, "bandPosition": 0.5}, "y": {"field": "q3", "type": "quantitative", "title": null}, "y2": {"field": "hi"}, "stroke": {"field": "g", "type": "nominal", "legend": null}}},
 {"data": {"name": "box"}, "transform": [{"filter": "datum.m === 'Pielou_e'"}], "mark": {"type": "bar", "fillOpacity": 0.5, "strokeWidth": 3.5},
  "encoding": {"x": {"field": "g", "type": "nominal", "title": null}, "y": {"field": "q1", "type": "quantitative", "title": null}, "y2": {"field": "q3"}, "fill": {"field": "g", "type": "nominal", "legend": null}, "stroke": {"field": "g", "type": "nominal", "legend": null}}},
 {"data": {"name": "box"}, "transform": [{"filter": "datum.m === 'Pielou_e'"}], "mark": {"type": "bar", "fillOpacity": 0, "strokeWidth": 3.5},
  "encoding": {"x": {"field": "g", "type": "nominal", "title": null}, "y": {"field": "med", "type": "quantitative", "title": null}, "y2": {"field": "med"}, "stroke": {"field": "g", "type": "nominal", "legend": null}}},
 {"data": {"name": "pts"}, "transform": [{"filter": "datum.m === 'Pielou_e'"}], "mark": {"type": "point", "filled": true, "size": 200, "opacity": 1},
  "encoding": {"x": {"field": "g", "type": "nominal", "title": null, "bandPosition": 0}, "xOffset": {"field": "j", "type": "quantitative", "scale": {"domain": [-0.375, 0.375], "range": [0, 73.75]}},
   "y": {"field": "v", "type": "quantitative", "title": null}, "color": {"field": "g", "type": "nominal", "legend": null}}},
 {"data": {"name": "sig"}, "transform": [{"filter": "datum.m === 'Pielou_e'"}], "mark": {"type": "rule", "strokeWidth": 2.5, "color": "#000000"},
  "encoding": {"x": {"field": "g1", "type": "nominal", "title": null, "bandPosition": 0.5}, "x2": {"field": "g2"}, "y": {"field": "y", "type": "quantitative", "title": null}}},
 {"data": {"name": "ann"}, "transform": [{"filter": "datum.m === 'Pielou_e' && datum.k === 'p'"}], "mark": {"type": "text", "fontSize": 34, "baseline": "alphabetic", "dy": 12, "color": "#000000"},
  "encoding": {"y": {"field": "y", "type": "quantitative", "title": null}, "text": {"field": "t"}}},
 {"data": {"name": "ann"}, "transform": [{"filter": "datum.m === 'Pielou_e' && datum.k === 's'"}], "mark": {"type": "text", "fontSize": 34, "baseline": "alphabetic", "dy": 20, "color": "#000000"},
  "encoding": {"y": {"field": "y", "type": "quantitative", "title": null}, "text": {"field": "t"}}}
]}
]
},
{
"columns": 7,
"spacing": {"row": 0, "column": 0},
"bounds": "flush",
"resolve": {"scale": {"x": "independent", "y": "independent", "color": "shared", "fill": "shared", "stroke": "shared"}},
"concat": [
{"width": 392, "height": 60, "data": {"values": [{"t": "Observed_species"}]}, "mark": {"type": "text", "fontSize": 30, "fontWeight": "bold", "color": "#1a1a1a", "baseline": "middle"}, "encoding": {"text": {"field": "t"}}, "view": {"fill": "#d9d9d9", "stroke": "#333333", "strokeWidth": 2}},
{"width": 83, "height": 60, "data": {"values": []}, "mark": "point", "encoding": {}, "view": {"stroke": "transparent"}},
{"width": 407, "height": 60, "data": {"values": [{"t": "Faith_pd"}]}, "mark": {"type": "text", "fontSize": 30, "fontWeight": "bold", "color": "#1a1a1a", "baseline": "middle"}, "encoding": {"text": {"field": "t"}}, "view": {"fill": "#d9d9d9", "stroke": "#333333", "strokeWidth": 2}},
{"width": 106, "height": 60, "data": {"values": []}, "mark": "point", "encoding": {}, "view": {"stroke": "transparent"}},
{"width": 384, "height": 60, "data": {"values": [{"t": "Goods_coverage"}]}, "mark": {"type": "text", "fontSize": 30, "fontWeight": "bold", "color": "#1a1a1a", "baseline": "middle"}, "encoding": {"text": {"field": "t"}}, "view": {"fill": "#d9d9d9", "stroke": "#333333", "strokeWidth": 2}},
{"width": 183, "height": 60, "data": {"values": []}, "mark": "point", "encoding": {}, "view": {"stroke": "transparent"}},
{"width": 150, "height": 60, "data": {"values": []}, "mark": "point", "encoding": {}, "view": {"stroke": "transparent"}},

{"width": 392, "height": 844, "resolve": {"scale": {"xOffset": "independent"}}, "layer": [
 {"data": {"name": "box"}, "transform": [{"filter": "datum.m === 'Observed_species'"}], "mark": {"type": "rule", "strokeWidth": 3.5},
  "encoding": {"x": {"field": "g", "type": "nominal", "title": null, "bandPosition": 0.5, "scale": {"domain": ["D","E","F","G"], "paddingInner": 0.25, "paddingOuter": 0.225}, "axis": {"labelAngle": 0}},
   "y": {"field": "lo", "type": "quantitative", "title": null, "scale": {"domain": [676, 3857], "nice": false, "zero": false}, "axis": {"values": [1000, 2000, 3000], "format": "d"}},
   "y2": {"field": "q1"}, "stroke": {"field": "g", "type": "nominal", "legend": null}}},
 {"data": {"name": "box"}, "transform": [{"filter": "datum.m === 'Observed_species'"}], "mark": {"type": "rule", "strokeWidth": 3.5},
  "encoding": {"x": {"field": "g", "type": "nominal", "title": null, "bandPosition": 0.5}, "y": {"field": "q3", "type": "quantitative", "title": null}, "y2": {"field": "hi"}, "stroke": {"field": "g", "type": "nominal", "legend": null}}},
 {"data": {"name": "box"}, "transform": [{"filter": "datum.m === 'Observed_species'"}], "mark": {"type": "bar", "fillOpacity": 0.5, "strokeWidth": 3.5},
  "encoding": {"x": {"field": "g", "type": "nominal", "title": null}, "y": {"field": "q1", "type": "quantitative", "title": null}, "y2": {"field": "q3"}, "fill": {"field": "g", "type": "nominal", "legend": null}, "stroke": {"field": "g", "type": "nominal", "legend": null}}},
 {"data": {"name": "box"}, "transform": [{"filter": "datum.m === 'Observed_species'"}], "mark": {"type": "bar", "fillOpacity": 0, "strokeWidth": 3.5},
  "encoding": {"x": {"field": "g", "type": "nominal", "title": null}, "y": {"field": "med", "type": "quantitative", "title": null}, "y2": {"field": "med"}, "stroke": {"field": "g", "type": "nominal", "legend": null}}},
 {"data": {"name": "pts"}, "transform": [{"filter": "datum.m === 'Observed_species'"}], "mark": {"type": "point", "filled": true, "size": 200, "opacity": 1},
  "encoding": {"x": {"field": "g", "type": "nominal", "title": null, "bandPosition": 0}, "xOffset": {"field": "j", "type": "quantitative", "scale": {"domain": [-0.375, 0.375], "range": [0, 70]}},
   "y": {"field": "v", "type": "quantitative", "title": null}, "color": {"field": "g", "type": "nominal", "legend": null}}},
 {"data": {"name": "sig"}, "transform": [{"filter": "datum.m === 'Observed_species'"}], "mark": {"type": "rule", "strokeWidth": 2.5, "color": "#000000"},
  "encoding": {"x": {"field": "g1", "type": "nominal", "title": null, "bandPosition": 0.5}, "x2": {"field": "g2"}, "y": {"field": "y", "type": "quantitative", "title": null}}},
 {"data": {"name": "ann"}, "transform": [{"filter": "datum.m === 'Observed_species' && datum.k === 'p'"}], "mark": {"type": "text", "fontSize": 34, "baseline": "alphabetic", "dy": 12, "color": "#000000"},
  "encoding": {"y": {"field": "y", "type": "quantitative", "title": null}, "text": {"field": "t"}}},
 {"data": {"name": "ann"}, "transform": [{"filter": "datum.m === 'Observed_species' && datum.k === 's'"}], "mark": {"type": "text", "fontSize": 34, "baseline": "alphabetic", "dy": 20, "color": "#000000"},
  "encoding": {"y": {"field": "y", "type": "quantitative", "title": null}, "text": {"field": "t"}}}
]},
{"width": 83, "height": 844, "data": {"values": []}, "mark": "point", "encoding": {}, "view": {"stroke": "transparent"}},
{"width": 407, "height": 844, "resolve": {"scale": {"xOffset": "independent"}}, "layer": [
 {"data": {"name": "box"}, "transform": [{"filter": "datum.m === 'Faith_pd'"}], "mark": {"type": "rule", "strokeWidth": 3.5},
  "encoding": {"x": {"field": "g", "type": "nominal", "title": null, "bandPosition": 0.5, "scale": {"domain": ["D","E","F","G"], "paddingInner": 0.25, "paddingOuter": 0.225}, "axis": {"labelAngle": 0}},
   "y": {"field": "lo", "type": "quantitative", "title": null, "scale": {"domain": [26.06, 122.75], "nice": false, "zero": false}, "axis": {"values": [50, 75, 100], "format": "d"}},
   "y2": {"field": "q1"}, "stroke": {"field": "g", "type": "nominal", "legend": null}}},
 {"data": {"name": "box"}, "transform": [{"filter": "datum.m === 'Faith_pd'"}], "mark": {"type": "rule", "strokeWidth": 3.5},
  "encoding": {"x": {"field": "g", "type": "nominal", "title": null, "bandPosition": 0.5}, "y": {"field": "q3", "type": "quantitative", "title": null}, "y2": {"field": "hi"}, "stroke": {"field": "g", "type": "nominal", "legend": null}}},
 {"data": {"name": "box"}, "transform": [{"filter": "datum.m === 'Faith_pd'"}], "mark": {"type": "bar", "fillOpacity": 0.5, "strokeWidth": 3.5},
  "encoding": {"x": {"field": "g", "type": "nominal", "title": null}, "y": {"field": "q1", "type": "quantitative", "title": null}, "y2": {"field": "q3"}, "fill": {"field": "g", "type": "nominal", "legend": null}, "stroke": {"field": "g", "type": "nominal", "legend": null}}},
 {"data": {"name": "box"}, "transform": [{"filter": "datum.m === 'Faith_pd'"}], "mark": {"type": "bar", "fillOpacity": 0, "strokeWidth": 3.5},
  "encoding": {"x": {"field": "g", "type": "nominal", "title": null}, "y": {"field": "med", "type": "quantitative", "title": null}, "y2": {"field": "med"}, "stroke": {"field": "g", "type": "nominal", "legend": null}}},
 {"data": {"name": "pts"}, "transform": [{"filter": "datum.m === 'Faith_pd'"}], "mark": {"type": "point", "filled": true, "size": 200, "opacity": 1},
  "encoding": {"x": {"field": "g", "type": "nominal", "title": null, "bandPosition": 0}, "xOffset": {"field": "j", "type": "quantitative", "scale": {"domain": [-0.375, 0.375], "range": [0, 72.68]}},
   "y": {"field": "v", "type": "quantitative", "title": null}, "color": {"field": "g", "type": "nominal", "legend": null}}},
 {"data": {"name": "sig"}, "transform": [{"filter": "datum.m === 'Faith_pd'"}], "mark": {"type": "rule", "strokeWidth": 2.5, "color": "#000000"},
  "encoding": {"x": {"field": "g1", "type": "nominal", "title": null, "bandPosition": 0.5}, "x2": {"field": "g2"}, "y": {"field": "y", "type": "quantitative", "title": null}}},
 {"data": {"name": "ann"}, "transform": [{"filter": "datum.m === 'Faith_pd' && datum.k === 'p'"}], "mark": {"type": "text", "fontSize": 34, "baseline": "alphabetic", "dy": 12, "color": "#000000"},
  "encoding": {"y": {"field": "y", "type": "quantitative", "title": null}, "text": {"field": "t"}}},
 {"data": {"name": "ann"}, "transform": [{"filter": "datum.m === 'Faith_pd' && datum.k === 's'"}], "mark": {"type": "text", "fontSize": 34, "baseline": "alphabetic", "dy": 20, "color": "#000000"},
  "encoding": {"y": {"field": "y", "type": "quantitative", "title": null}, "text": {"field": "t"}}}
]},
{"width": 106, "height": 844, "data": {"values": []}, "mark": "point", "encoding": {}, "view": {"stroke": "transparent"}},
{"width": 384, "height": 844, "resolve": {"scale": {"xOffset": "independent"}}, "layer": [
 {"data": {"name": "box"}, "transform": [{"filter": "datum.m === 'Goods_coverage'"}], "mark": {"type": "rule", "strokeWidth": 3.5},
  "encoding": {"x": {"field": "g", "type": "nominal", "title": null, "bandPosition": 0.5, "scale": {"domain": ["D","E","F","G"], "paddingInner": 0.25, "paddingOuter": 0.225}, "axis": {"labelAngle": 0}},
   "y": {"field": "lo", "type": "quantitative", "title": null, "scale": {"domain": [0.97772, 1.003383], "nice": false, "zero": false}, "axis": {"values": [0.98, 0.985, 0.99, 0.995, 1.0], "format": ".3f"}},
   "y2": {"field": "q1"}, "stroke": {"field": "g", "type": "nominal", "legend": null}}},
 {"data": {"name": "box"}, "transform": [{"filter": "datum.m === 'Goods_coverage'"}], "mark": {"type": "rule", "strokeWidth": 3.5},
  "encoding": {"x": {"field": "g", "type": "nominal", "title": null, "bandPosition": 0.5}, "y": {"field": "q3", "type": "quantitative", "title": null}, "y2": {"field": "hi"}, "stroke": {"field": "g", "type": "nominal", "legend": null}}},
 {"data": {"name": "box"}, "transform": [{"filter": "datum.m === 'Goods_coverage'"}], "mark": {"type": "bar", "fillOpacity": 0.5, "strokeWidth": 3.5},
  "encoding": {"x": {"field": "g", "type": "nominal", "title": null}, "y": {"field": "q1", "type": "quantitative", "title": null}, "y2": {"field": "q3"}, "fill": {"field": "g", "type": "nominal", "legend": null}, "stroke": {"field": "g", "type": "nominal", "legend": null}}},
 {"data": {"name": "box"}, "transform": [{"filter": "datum.m === 'Goods_coverage'"}], "mark": {"type": "bar", "fillOpacity": 0, "strokeWidth": 3.5},
  "encoding": {"x": {"field": "g", "type": "nominal", "title": null}, "y": {"field": "med", "type": "quantitative", "title": null}, "y2": {"field": "med"}, "stroke": {"field": "g", "type": "nominal", "legend": null}}},
 {"data": {"name": "pts"}, "transform": [{"filter": "datum.m === 'Goods_coverage'"}], "mark": {"type": "point", "filled": true, "size": 200, "opacity": 1},
  "encoding": {"x": {"field": "g", "type": "nominal", "title": null, "bandPosition": 0}, "xOffset": {"field": "j", "type": "quantitative", "scale": {"domain": [-0.375, 0.375], "range": [0, 68.57]}},
   "y": {"field": "v", "type": "quantitative", "title": null}, "color": {"field": "g", "type": "nominal", "legend": null}}},
 {"data": {"name": "sig"}, "transform": [{"filter": "datum.m === 'Goods_coverage'"}], "mark": {"type": "rule", "strokeWidth": 2.5, "color": "#000000"},
  "encoding": {"x": {"field": "g1", "type": "nominal", "title": null, "bandPosition": 0.5}, "x2": {"field": "g2"}, "y": {"field": "y", "type": "quantitative", "title": null}}},
 {"data": {"name": "ann"}, "transform": [{"filter": "datum.m === 'Goods_coverage' && datum.k === 'p'"}], "mark": {"type": "text", "fontSize": 34, "baseline": "alphabetic", "dy": 12, "color": "#000000"},
  "encoding": {"y": {"field": "y", "type": "quantitative", "title": null}, "text": {"field": "t"}}},
 {"data": {"name": "ann"}, "transform": [{"filter": "datum.m === 'Goods_coverage' && datum.k === 's'"}], "mark": {"type": "text", "fontSize": 34, "baseline": "alphabetic", "dy": 20, "color": "#000000"},
  "encoding": {"y": {"field": "y", "type": "quantitative", "title": null}, "text": {"field": "t"}}}
]},
{"width": 183, "height": 844, "data": {"values": []}, "mark": "point", "encoding": {}, "view": {"stroke": "transparent"}},
{"width": 150, "height": 844, "data": {"name": "groups"}, "view": {"stroke": "transparent"},
 "title": {"text": "Groups", "anchor": "start", "frame": "group", "orient": "top", "offset": 0, "dy": 155, "baseline": "alphabetic", "fontSize": 40, "fontWeight": "bold", "color": "#000000"},
 "encoding": {"y": {"field": "g", "type": "nominal", "title": null, "scale": {"domain": ["D","E","F","G"], "range": [140.3, 448.3], "paddingInner": 0, "paddingOuter": 0}, "axis": null}},
 "layer": [
  {"mark": {"type": "bar", "height": {"band": 0.83}}, "encoding": {"x": {"datum": 36.5, "type": "quantitative", "scale": {"domain": [0, 150], "nice": false, "zero": false}, "axis": null}, "x2": {"datum": 39.5}, "fill": {"field": "g", "type": "nominal", "legend": null}}},
  {"mark": {"type": "bar", "height": {"band": 0.53}, "fill": "#ffffff", "strokeWidth": 3}, "encoding": {"x": {"datum": 8, "type": "quantitative"}, "x2": {"datum": 68}, "stroke": {"field": "g", "type": "nominal", "legend": null}}},
  {"mark": {"type": "rule", "strokeWidth": 3}, "encoding": {"x": {"datum": 8, "type": "quantitative"}, "x2": {"datum": 68}, "stroke": {"field": "g", "type": "nominal", "legend": null}}},
  {"mark": {"type": "point", "filled": true, "size": 141, "opacity": 1}, "encoding": {"x": {"datum": 38, "type": "quantitative"}, "color": {"field": "g", "type": "nominal", "legend": null}}},
  {"mark": {"type": "text", "fontSize": 36, "align": "left", "baseline": "middle", "color": "#000000"}, "encoding": {"x": {"datum": 99, "type": "quantitative"}, "text": {"field": "g"}}}
 ]}
]
}
],
"config": {
 "font": "Liberation Sans",
 "view": {"stroke": "#333333", "strokeWidth": 2},
 "range": {"category": ["#7FC97F", "#BEAED4", "#FDC086", "#386CB0"]},
 "axisX": {"ticks": false, "domain": false, "grid": false, "labelFontSize": 36, "labelColor": "#000000", "labelPadding": 17, "labelAngle": 0},
 "axisY": {"domain": false, "grid": false, "tickSize": 12, "tickWidth": 2, "tickColor": "#333333", "labelFontSize": 26.5, "labelColor": "#333333", "labelPadding": 6, "labelFlush": false, "labelOverlap": false}
}
}
